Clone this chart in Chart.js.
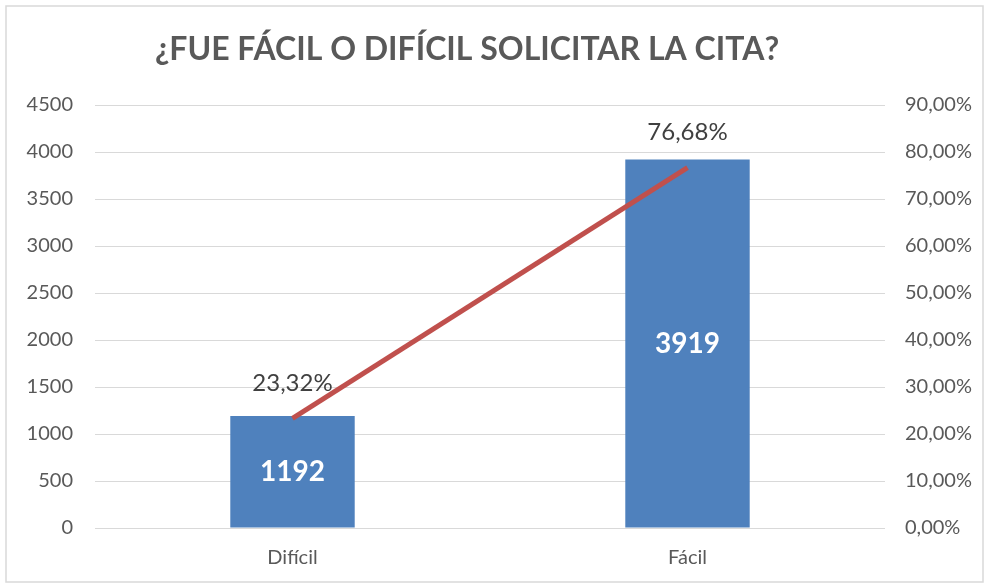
<!DOCTYPE html>
<html>
<head>
<meta charset="utf-8">
<script src="https://cdn.jsdelivr.net/npm/chart.js@4"></script>
<style>
  body { margin: 0; background: #fff; }
  #wrap { position: relative; width: 989px; height: 588px; }
</style>
</head>
<body>
<div id="wrap"><canvas id="myChart" width="989" height="588"></canvas></div>
<script>
const categories = ['Difícil', 'Fácil'];
const counts = [1192, 3919];
const percents = [23.32, 76.68];
const titleText = '¿FUE FÁCIL O DIFÍCIL SOLICITAR LA CITA?';

const FONT = 'Lato, "Open Sans", sans-serif';
const fmtPct = v => v.toFixed(2).replace('.', ',') + '%';

// border, title and data labels
const extras = {
  id: 'extras',
  beforeDraw(chart) {
    const ctx = chart.ctx;
    ctx.save();
    ctx.fillStyle = '#fff';
    ctx.fillRect(0, 0, chart.width, chart.height);
    ctx.strokeStyle = '#d9d9d9';
    ctx.lineWidth = 1.5;
    ctx.strokeRect(6, 6, chart.width - 12, chart.height - 12);
    ctx.font = 'bold 32px ' + FONT;
    ctx.fillStyle = '#595959';
    ctx.textAlign = 'center';
    ctx.textBaseline = 'middle';
    ctx.fillText(titleText, 467, 50);
    ctx.restore();
  },
  afterDatasetsDraw(chart) {
    const ctx = chart.ctx;
    ctx.save();
    ctx.textAlign = 'center';
    ctx.textBaseline = 'middle';
    // bar values
    const bars = chart.getDatasetMeta(0).data;
    ctx.font = 'bold 28px ' + FONT;
    ctx.fillStyle = '#ffffff';
    bars.forEach((b, i) => {
      ctx.fillText(String(counts[i]), b.x, (b.y + b.base) / 2);
    });
    // percent labels
    const pts = chart.getDatasetMeta(1).data;
    ctx.font = '24px ' + FONT;
    ctx.fillStyle = '#404040';
    pts.forEach((p, i) => {
      ctx.fillText(fmtPct(percents[i]), p.x, p.y - 35);
    });
    ctx.restore();
  }
};

const data = {
  labels: categories,
  datasets: [{
    type: 'bar',
    data: counts,
    backgroundColor: '#4F81BD',
    yAxisID: 'y',
    barPercentage: 0.63,
    categoryPercentage: 0.5,
    order: 2
  }, {
    type: 'line',
    data: percents,
    borderColor: '#C0504D',
    borderWidth: 5,
    pointRadius: 0,
    yAxisID: 'y1',
    order: 1
  }]
};

const config = {
  data: data,
  options: {
    responsive: false,
    animation: false,
    layout: { padding: { left: 6, right: 6, top: 105, bottom: 8 } },
    plugins: {
      legend: { display: false },
      tooltip: { enabled: false },
      title: { display: false }
    },
    scales: {
      x: {
        grid: { display: false },
        border: { display: false },
        ticks: { color: '#595959', font: { family: FONT, size: 20 }, padding: 10 }
      },
      y: {
        position: 'left',
        min: 0, max: 4500,
        ticks: { stepSize: 500, color: '#595959', font: { family: FONT, size: 20 }, padding: 22, callback: v => String(v) },
        grid: { color: '#d9d9d9', drawTicks: false },
        border: { display: false },
        afterFit(s) { s.width = 89; }
      },
      y1: {
        position: 'right',
        min: 0, max: 90,
        ticks: { stepSize: 10, color: '#595959', font: { family: FONT, size: 20 }, padding: 20, callback: v => fmtPct(v) },
        grid: { display: false, drawTicks: false },
        border: { display: false },
        afterFit(s) { s.width = 98; }
      }
    }
  },
  plugins: [extras]
};

const chart = new Chart(document.getElementById('myChart'), config);
</script>
</body>
</html>
